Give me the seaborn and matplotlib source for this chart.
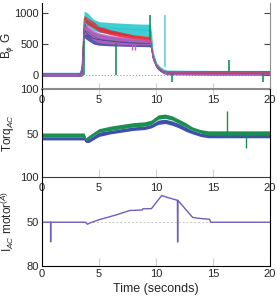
import numpy as np
import pandas as pd
import matplotlib
matplotlib.use("Agg")
import matplotlib.pyplot as plt
import seaborn as sns

# ---------------- data ----------------
# Panel 1: B_phi (G) envelopes (low / high of the noisy traces)
t1 = [0, 3.3, 3.5, 3.7, 4.0, 4.5, 5, 6, 7, 8, 9, 9.5, 9.6, 9.75, 10.05, 10.35, 10.65, 11, 15, 20]
cyan_lo = [-15, -15, 0, 700, 800, 720, 690, 670, 650, 640, 625, 620, 500, 280, 140, 90, 50, 20, 10, 10]
cyan_hi = [45, 45, 200, 1030, 1000, 900, 860, 845, 835, 825, 820, 820, 700, 380, 200, 140, 100, 80, 75, 75]
green_lo = [-10, -10, -10, 640, 640, 560, 520, 500, 490, 480, 470, 470, 390, 240, 115, 65, 30, 10, 5, 5]
green_hi = [40, 40, 100, 800, 760, 700, 650, 620, 600, 580, 570, 565, 470, 300, 160, 110, 75, 65, 65, 65]
red_lo = [-10, -10, 0, 860, 810, 760, 700, 650, 610, 580, 555, 545, 440, 270, 130, 80, 40, 20, 15, 15]
red_hi = [40, 40, 150, 960, 920, 860, 790, 730, 690, 650, 630, 620, 520, 330, 180, 120, 80, 70, 70, 70]
blue_lo = [-20, -20, -20, 600, 560, 500, 480, 470, 465, 460, 458, 455, 380, 230, 110, 60, 25, 5, 0, 0]
blue_hi = [30, 30, 100, 850, 750, 680, 660, 620, 590, 570, 560, 555, 460, 290, 150, 100, 70, 60, 55, 55]
mag_lo = [-15, -15, -10, 650, 650, 560, 520, 500, 490, 485, 484, 484, 400, 250, 120, 70, 30, 10, 5, 5]
mag_hi = [40, 40, 120, 800, 800, 720, 680, 640, 615, 590, 570, 565, 470, 300, 160, 110, 75, 60, 60, 60]
# isolated spikes in panel 1
green_spike_t = [3.65, 6.45, 9.48, 11.4, 16.4, 19.4]
green_spike_from = [550, 520, 560, 30, 60, 20]
green_spike_to = [0, 0, 970, -110, 240, -115]
cyan_spike_t = [10.8]
cyan_spike_from = [130]
cyan_spike_to = [960]
mag_spike_t = [7.9, 8.15]
mag_spike_from = [500, 500]
mag_spike_to = [400, 410]

# Panel 2: Torq_AC envelopes
t2 = [0, 3.7, 3.85, 4.1, 5.0, 6.0, 7.0, 8.0, 9.0, 9.6, 10.2, 10.8, 11.4, 12.0, 12.6, 13.2, 13.9, 14.6, 16, 20]
tq_green_lo = [49, 49, 55, 52, 44, 41, 39, 37, 36, 34, 28, 27, 29, 33, 37, 42, 45, 46.5, 46.5, 46.5]
tq_green_hi = [54, 54, 58, 56, 48, 46, 44, 42, 41, 39, 33, 32, 34, 38, 42, 46, 49, 52, 53, 53]
tq_blue_lo = [54, 54, 58, 56, 48, 46, 44, 42, 41, 39, 34, 33, 35, 38, 42, 46, 49, 51, 51, 51]
tq_blue_hi = [57, 57, 60, 60, 53, 50, 48, 46, 45, 43, 39, 38, 40, 43, 47, 50, 53, 54.5, 54.5, 54.5]
tq_green_spike_t = [16.2, 17.9]
tq_green_spike_from = [49, 52]
tq_green_spike_to = [24, 66]

# Panel 3: I_AC motor (A)
t3 = [0, 0.75, 0.76, 0.77, 3.8, 4.0, 4.2, 5.0, 6.5, 7.7, 8.8, 8.85, 9.6, 10.5, 11.0, 11.88, 11.9, 11.92,
      13.2, 13.7, 14.7, 14.8, 20]
i_ac = [50, 50, 63.5, 50, 50, 51.4, 50.5, 48.3, 45.0, 42.0, 41.6, 40.8, 40.7, 31.7, 33.0, 35.0, 63.6, 35.0,
        46.6, 47.3, 48.0, 50, 50]

x_ticks = [0, 5, 10, 15, 20]

# ---------------- style ----------------
sns.set_style("ticks")
plt.rcParams["font.family"] = ["Liberation Sans", "DejaVu Sans"]
plt.rcParams["mathtext.fontset"] = "custom"
plt.rcParams["mathtext.rm"] = "Liberation Sans"
plt.rcParams["mathtext.it"] = "Liberation Sans:italic"

fig = plt.figure(figsize=(2.77, 2.96), dpi=100)
L, W = 0.1516, 0.823
ax1 = fig.add_axes([L, 0.6993, W, 0.2905])
ax2 = fig.add_axes([L, 0.402, W, 0.2973], facecolor="none")
ax3 = fig.add_axes([L, 0.1014, W, 0.3007], facecolor="none")

def band_frame(t, lo, hi, name):
    return pd.DataFrame({"t": list(t) * 2, "v": list(lo) + list(hi), "s": name})

# ---------- panel 1 ----------
ax1.axhline(0, color="#9a9a9a", ls=(0, (1.2, 2)), lw=0.7, zorder=0.5)
df1 = pd.concat([
    band_frame(t1, cyan_lo, cyan_hi, "cyan"),
    band_frame(t1, green_lo, green_hi, "green"),
    band_frame(t1, red_lo, red_hi, "red"),
    band_frame(t1, blue_lo, blue_hi, "blue"),
    band_frame(t1, mag_lo, mag_hi, "mag"),
])
pal1 = {"cyan": "#1cc6cc", "green": "#14905a", "red": "#e8222e", "blue": "#3a3d9e", "mag": "#c460c4"}
sns.lineplot(data=df1, x="t", y="v", hue="s", hue_order=list(pal1), palette=pal1,
             estimator="mean", errorbar=("pi", 100), err_kws={"alpha": 0.85, "linewidth": 0},
             linewidth=0.5, legend=False, ax=ax1)
ax1.vlines(green_spike_t, green_spike_from, green_spike_to, color=pal1["green"], lw=1.2)
ax1.vlines(cyan_spike_t, cyan_spike_from, cyan_spike_to, color="#5fd6da", lw=1.2)
ax1.vlines(mag_spike_t, mag_spike_from, mag_spike_to, color=pal1["mag"], lw=1.0)

ax1.set_xlim(0, 20)
ax1.set_ylim(-225, 1160)
ax1.set_yticks([-225, 0, 500, 1000])
ax1.set_yticklabels(["100", "0", "500", "1000"])
ax1.set_xticks(x_ticks)
ax1.set_xticklabels([str(v) for v in x_ticks])
ax1.set_xlabel("")
ax1.set_ylabel(r"B$_\phi$ G", fontsize=8.5)
ax1.spines["top"].set_visible(False)
ax1.spines["right"].set_color("#8c8c8c")
ax1.spines["bottom"].set_color("#8c8c8c")
ax1.spines["bottom"].set_linewidth(1.5)
ax1.spines["left"].set_color("black")
ax1.tick_params(axis="x", direction="inout", length=8, color="#cfcfcf", pad=0.6, labelsize=8)
ax1.tick_params(axis="y", direction="in", length=4, color="#444444", pad=2.5, labelsize=8,
                right=True)

# ---------- panel 2 ----------
df2 = pd.concat([
    band_frame(t2, tq_blue_lo, tq_blue_hi, "blue"),
    band_frame(t2, tq_green_lo, tq_green_hi, "green"),
])
pal2 = {"blue": "#3e4fae", "green": "#1a8f4f"}
sns.lineplot(data=df2, x="t", y="v", hue="s", hue_order=list(pal2), palette=pal2,
             estimator="mean", errorbar=("pi", 100), err_kws={"alpha": 1.0, "linewidth": 0},
             linewidth=0.8, legend=False, ax=ax2)
ax2.vlines(tq_green_spike_t, tq_green_spike_from, tq_green_spike_to, color=pal2["green"], lw=1.0)
ax2.set_xlim(0, 20)
ax2.set_ylim(100, -2)
ax2.set_yticks([50, 100])
ax2.set_yticklabels(["50", "100"])
ax2.set_xticks(x_ticks)
ax2.set_xticklabels([str(v) for v in x_ticks])
ax2.set_xlabel("")
ax2.set_ylabel(r"Torq$_{AC}$", fontsize=8.5)
ax2.spines["top"].set_visible(False)
ax2.spines["bottom"].set_color("#3a3a3a")
ax2.spines["right"].set_color("black")
ax2.spines["left"].set_color("black")
ax2.tick_params(axis="x", direction="in", length=6, color="#d0d0d0", pad=4.0, labelsize=8)
ax2.tick_params(axis="y", length=0, pad=2.5, labelsize=8)

# ---------- panel 3 ----------
ax3.axhline(50, color="#c8c8c8", ls=(0, (2, 2)), lw=0.7, zorder=0.5)
df3 = pd.DataFrame({"t": t3, "i": i_ac})
sns.lineplot(data=df3, x="t", y="i", color="#6a5fc0", linewidth=1.0, sort=False,
             estimator=None, ax=ax3)
ax3.set_xlim(0, 20)
ax3.set_ylim(80, 19)
ax3.set_yticks([50, 80])
ax3.set_yticklabels(["50", "80"])
ax3.set_xticks(x_ticks)
ax3.set_xticklabels([str(v) for v in x_ticks])
ax3.set_xlabel("Time (seconds)", fontsize=9, labelpad=3)
ax3.set_ylabel(r"I$_{AC}$ motor$^{(A)}$", fontsize=8.5)
ax3.spines["top"].set_visible(False)
ax3.spines["bottom"].set_color("black")
ax3.spines["right"].set_color("black")
ax3.spines["left"].set_color("black")
ax3.tick_params(axis="x", direction="in", length=6, color="#d0d0d0", pad=2.2, labelsize=8)
ax3.tick_params(axis="y", length=0, pad=2.5, labelsize=8)

for ax in (ax1, ax2, ax3):
    ax.yaxis.set_label_coords(-0.115, 0.5)

fig.savefig("out.png", dpi=100)
